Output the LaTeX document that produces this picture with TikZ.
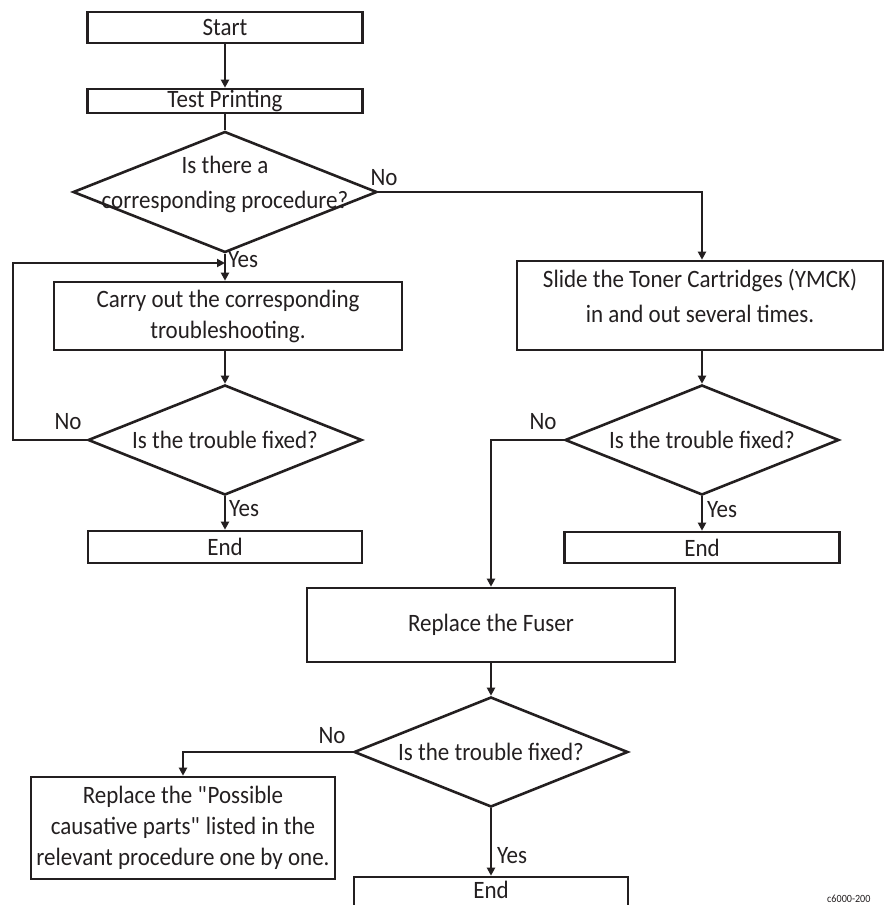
\documentclass[tikz,border=0pt]{standalone}
\usepackage{fontspec}
\setmainfont{Carlito}[FakeStretch=0.92]
\usetikzlibrary{positioning, shapes.geometric, arrows.meta}
\definecolor{ink}{HTML}{231F20}

\begin{document}
\begin{tikzpicture}[x=1pt,y=-1pt, line join=miter,
  every node/.style={font=\fontsize{25}{31}\selectfont, text=ink},
  box/.style={draw=ink, line width=2.6pt, inner sep=0pt, align=center},
  decision/.style={draw=ink, diamond, line width=2.6pt, aspect=2.5, inner xsep=-40pt, inner ysep=-10pt,
                   minimum width=274pt, minimum height=110pt, align=center},
  yesno/.style={inner sep=0pt},
  flow/.style={draw=ink, line width=2.4pt, -{Triangle[length=8pt,width=8pt]}},
  plain/.style={draw=ink, line width=2.4pt}]

\useasboundingbox (0,0) rectangle (886,905);

% left column
\node[box, minimum width=275pt, minimum height=31pt] (start) at (225,27.5) {Start};
\node[box, minimum width=275pt, minimum height=24pt] (test) at (225,101) {Test Printing};
\node[decision, minimum width=304pt, minimum height=121pt, text depth=20pt] (q1) at (225,192) {Is there a\\[4pt]corresponding procedure?};
\node[box, minimum width=348pt, minimum height=68pt] (carry) at (228,316) {Carry out the corresponding\\troubleshooting.};
\node[decision] (q2) at (225,440) {Is the trouble fixed?};
\node[box, minimum width=274pt, minimum height=32pt] (end1) at (225,547) {End};

% right column
\node[box, minimum width=366pt, minimum height=89pt, text depth=20pt] (slide) at (700,305.5) {Slide the Toner Cartridges (YMCK)\\[4pt]in and out several times.};
\node[decision] (q3) at (702,440) {Is the trouble fixed?};
\node[box, minimum width=275pt, minimum height=31pt] (end2) at (702,547.5) {End};

% bottom part
\node[box, minimum width=368pt, minimum height=74pt] (fuser) at (491,625) {Replace the Fuser};
\node[decision] (q4) at (491,752) {Is the trouble fixed?};
\node[box, minimum width=304pt, minimum height=102pt] (replace) at (183,828) {Replace the \textquotedbl Possible\\causative parts\textquotedbl{} listed in the\\relevant procedure one by one.};
\node[box, minimum width=274pt, minimum height=32pt, text depth=7pt] (end3) at (491,893) {End};

\coordinate (join) at (225,263);

\draw[flow] (start) -- (test);
\draw[plain] (test) -- (q1);
\draw[flow] (q1.south) -- (q1.south |- carry.north);
\draw[flow] (q2.west) -- ++(-74,0) |- (join);
\draw[flow] (carry.south -| q2.north) -- (q2.north);
\draw[flow] (q2) -- (end1);

\draw[flow] (q1.east) -| (slide.north -| q3.north);
\draw[flow] (slide.south -| q3.north) -- (q3.north);
\draw[flow] (q3) -- (end2);
\draw[flow] (q3.west) -| (fuser.north);

\draw[flow] (fuser) -- (q4);
\draw[flow] (q4.west) -| (replace.north);
\draw[flow] (q4) -- (end3);

% branch labels
\node[yesno] (yes1) at (243,260) {Yes};
\node[yesno] (no1) at (384,178) {No};
\node[yesno] (no2) at (68,422) {No};
\node[yesno] (yes2) at (244,509) {Yes};
\node[yesno] (no3) at (543,422) {No};
\node[yesno] (yes3) at (722,510) {Yes};
\node[yesno] (no4) at (332,736) {No};
\node[yesno] (yes4) at (512,856) {Yes};

\node[font=\fontsize{11}{12}\selectfont, anchor=base west, inner sep=0pt] (figid) at (827,902) {c6000-200};

\end{tikzpicture}
\end{document}
